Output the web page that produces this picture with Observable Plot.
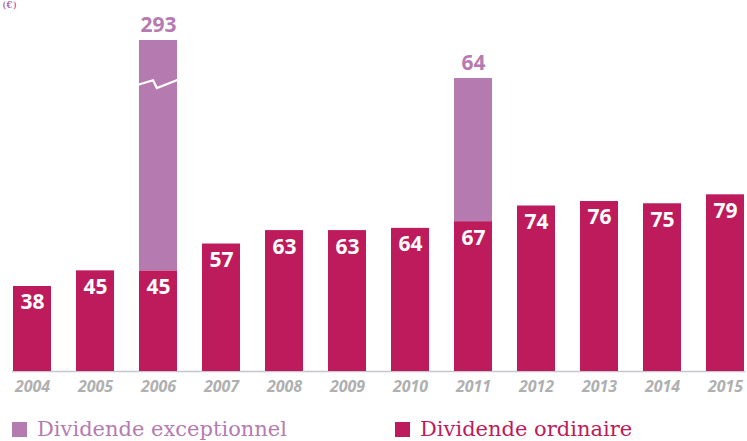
<!DOCTYPE html>
<html>
<head>
<meta charset="utf-8">
<script src="https://cdn.jsdelivr.net/npm/d3@7"></script>
<script src="https://cdn.jsdelivr.net/npm/@observablehq/plot@0.6"></script>
<style>
  html, body { margin: 0; padding: 0; background: #fff; }
  #chart { position: relative; width: 747px; }
  .legend { position: relative; height: 41px; width: 747px; font-family: "DejaVu Serif", serif; font-size: 21px; }
  .item { position: absolute; top: 17px; display: flex; align-items: center; }
  .sw { width: 15px; height: 15px; display: inline-block; margin-right: 10px; }
</style>
</head>
<body>
<div id="chart"></div>
<script>
const years = ["2004","2005","2006","2007","2008","2009","2010","2011","2012","2013","2014","2015"];
const ordinary = [38, 45, 45, 57, 63, 63, 64, 67, 74, 76, 75, 79];
const exceptional = [0, 0, 293, 0, 0, 0, 0, 64, 0, 0, 0, 0];
const seriesNames = ["Dividende exceptionnel", "Dividende ordinaire"];
const unitLabel = "(€)";
const axisMax = 148;      // displayed top of the broken axis
const breakYear = "2006"; // bar with an axis break
const breakAt = 128;      // data value where the break mark sits

const colOrd = "#bd1b5b";
const colExc = "#b57bb1";

const ordRows = years.map((y, i) => ({year: y, y1: 0, y2: ordinary[i], v: ordinary[i]}));
const excRows = years.map((y, i) => ({year: y, y1: ordinary[i], y2: ordinary[i] + exceptional[i], v: exceptional[i]}))
  .filter(d => d.v > 0);

const breakMark = (index, scales) => {
  const x = scales.x, y = scales.y;
  const x0 = x(breakYear), w = x.bandwidth();
  const yc = y(breakAt);
  const path = d3.path();
  path.moveTo(x0 - 1, yc);
  path.lineTo(x0 + w * 0.37, yc - 4.5);
  path.lineTo(x0 + w * 0.47, yc + 3.3);
  path.lineTo(x0 + w + 1, yc - 5);
  return d3.create("svg:path")
    .attr("d", path.toString())
    .attr("fill", "none")
    .attr("stroke", "white")
    .attr("stroke-width", 2.2)
    .node();
};

const chart = Plot.plot({
  width: 747,
  height: 400,
  marginLeft: 12,
  marginRight: 2,
  marginTop: 40,
  marginBottom: 29,
  style: {background: "white", overflow: "visible"},
  x: {domain: years, paddingInner: 0.4, paddingOuter: 0, label: null, tickSize: 0, tickPadding: 9},
  y: {domain: [0, axisMax], clamp: true, axis: null},
  marks: [
    Plot.ruleY([0], {stroke: "#c6c6ce", strokeWidth: 1.5}),
    Plot.barY(ordRows, {x: "year", y1: "y1", y2: "y2", fill: colOrd}),
    Plot.barY(excRows, {x: "year", y1: "y1", y2: "y2", fill: colExc}),
    breakMark,
    Plot.text(ordRows, {x: "year", y: "y2", text: d => String(d.v), fill: "white", lineAnchor: "top", dy: 8,
      fontSize: 21, fontWeight: "bold", fontFamily: "Open Sans"}),
    Plot.text(excRows, {x: "year", y: "y2", text: d => String(d.v), fill: colExc, lineAnchor: "bottom", dy: -9,
      fontSize: 21, fontWeight: "bold", fontFamily: "Open Sans"}),
    Plot.text([unitLabel], {frameAnchor: "top-left", text: d => d, dx: -10, dy: -40,
      fill: "#9b3d94", fontSize: 10, fontFamily: "DejaVu Serif", textAnchor: "start", lineAnchor: "top"}),
    Plot.axisX({tickSize: 0, tickPadding: 9, fontSize: 16, fontStyle: "italic", fontWeight: "bold",
      fontFamily: "Open Sans", fill: "#b0b0b0", label: null})
  ]
});
document.getElementById("chart").appendChild(chart);

const legend = document.createElement("div");
legend.className = "legend";
const items = [
  {name: seriesNames[0], color: colExc, left: 12},
  {name: seriesNames[1], color: colOrd, left: 395}
];
for (const it of items) {
  const d = document.createElement("div");
  d.className = "item";
  d.style.left = it.left + "px";
  d.style.color = it.color;
  const sw = document.createElement("span");
  sw.className = "sw";
  sw.style.background = it.color;
  d.appendChild(sw);
  const t = document.createElement("span");
  t.textContent = it.name;
  d.appendChild(t);
  legend.appendChild(d);
}
document.body.appendChild(legend);
</script>
</body>
</html>
